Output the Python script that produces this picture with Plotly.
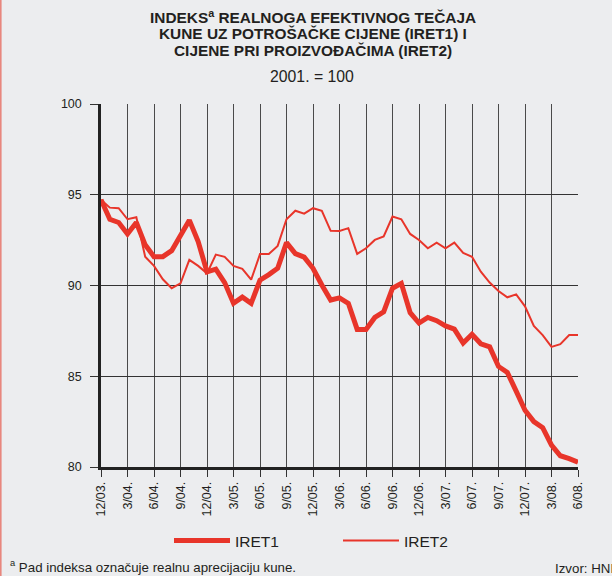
import plotly.graph_objects as go

months = list(range(55))
tick_idx = list(range(0, 55, 3))
tick_labels = ["12/03.", "3/04.", "6/04.", "9/04.", "12/04.", "3/05.", "6/05.", "9/05.",
               "12/05.", "3/06.", "6/06.", "9/06.", "12/06.", "3/07.", "6/07.", "9/07.",
               "12/07.", "3/08.", "6/08."]

iret1 = [94.72, 93.65, 93.47, 92.84, 93.47, 92.24, 91.59, 91.59, 91.92, 92.79,
         93.6, 92.42, 90.75, 90.9, 90.16, 89.02, 89.36, 89.02, 90.3, 90.6,
         90.95, 92.36, 91.76, 91.56, 90.95, 90.03, 89.2, 89.32, 89.02, 87.58,
         87.58, 88.24, 88.55, 89.85, 90.12, 88.5, 87.93, 88.24, 88.06, 87.77,
         87.6, 86.83, 87.31, 86.79, 86.62, 85.54, 85.21, 84.18, 83.13, 82.5,
         82.17, 81.2, 80.62, 80.46, 80.26]

iret2 = [94.72, 94.29, 94.26, 93.65, 93.76, 91.59, 91.08, 90.34, 89.85, 90.12,
         91.41, 91.08, 90.67, 91.7, 91.58, 91.08, 90.92, 90.32, 91.73, 91.73,
         92.18, 93.65, 94.12, 93.96, 94.26, 94.11, 93.01, 93.0, 93.16, 91.74,
         92.05, 92.51, 92.7, 93.8, 93.65, 92.84, 92.51, 92.05, 92.36, 92.05,
         92.36, 91.8, 91.58, 90.76, 90.16, 89.7, 89.35, 89.51, 88.85, 87.77,
         87.27, 86.62, 86.77, 87.27, 87.27]

y_ticks = [80, 85, 90, 95, 100]

RED = "#E8352A"
BG = "#ECEDEF"
TXT = "#231F20"
FONT = "Liberation Sans, Arial, sans-serif"

W, H = 612, 576
L, R, T, B = 101, 34, 104, 109
PW = W - L - R
PH = H - T - B


def px(x):
    return (x - L) / PW


def py(y):
    return (H - B - y) / PH


fig = go.Figure()
fig.add_trace(go.Scatter(x=months, y=iret1, mode="lines", name="IRET1",
                         line=dict(color=RED, width=5), legend="legend"))
fig.add_trace(go.Scatter(x=months, y=iret2, mode="lines", name="IRET2",
                         line=dict(color=RED, width=2), legend="legend2"))

title_lines = ["INDEKS<sup>a</sup> REALNOGA EFEKTIVNOG TEČAJA",
               "KUNE UZ POTROŠAČKE CIJENE (IRET1) I",
               "CIJENE PRI PROIZVOĐAČIMA (IRET2)"]
annotations = []
for k, t in enumerate(title_lines):
    annotations.append(dict(text="<b>" + t + "</b>", x=px(313), y=py(17 + 16.5 * k),
                            xref="paper", yref="paper", showarrow=False,
                            xanchor="center", yanchor="middle",
                            font=dict(family=FONT, size=15.4, color=TXT)))
annotations.append(dict(text="2001. = 100", x=px(312), y=py(76), xref="paper", yref="paper",
                        showarrow=False, xanchor="center", yanchor="middle",
                        font=dict(family=FONT, size=15.8, color=TXT)))
annotations.append(dict(text="<sup>a</sup> Pad indeksa označuje realnu aprecijaciju kune.",
                        x=px(8), y=py(566), xref="paper", yref="paper",
                        showarrow=False, xanchor="left", yanchor="middle",
                        font=dict(family=FONT, size=13.3, color=TXT)))
annotations.append(dict(text="Izvor: HNB", x=px(553), y=py(568), xref="paper", yref="paper",
                        showarrow=False, xanchor="left", yanchor="middle",
                        font=dict(family=FONT, size=13.3, color=TXT)))

shapes = [dict(type="line", xref="paper", yref="paper", x0=px(0.8), x1=px(0.8),
               y0=py(0), y1=py(576), line=dict(color="#E8877E", width=1.6))]

leg_common = dict(orientation="h", xanchor="left", yanchor="middle",
                  xref="paper", yref="paper", bgcolor="rgba(0,0,0,0)",
                  font=dict(family=FONT, size=15.5, color=TXT), itemwidth=56)

fig.update_layout(
    width=W, height=H,
    margin=dict(l=L, r=R, t=T, b=B, pad=0, autoexpand=False),
    paper_bgcolor=BG, plot_bgcolor=BG,
    font=dict(family=FONT, size=12, color=TXT),
    showlegend=True,
    legend=dict(x=px(169), y=py(541), **leg_common),
    legend2=dict(x=px(338), y=py(541), **leg_common),
    annotations=annotations,
    shapes=shapes,
)

fig.update_xaxes(range=[0, 54], tickmode="array", tickvals=tick_idx, ticktext=tick_labels,
                 tickangle=-90, ticks="outside", ticklen=7, tickwidth=1, tickcolor="#333",
                 showgrid=True, gridcolor="#4a4a4a", gridwidth=1.2,
                 showline=True, linecolor="#222", linewidth=2.5, automargin=False,
                 zeroline=False, tickfont=dict(family=FONT, size=12.5, color=TXT))
fig.update_yaxes(range=[80, 100], tickmode="array", tickvals=y_ticks,
                 ticks="outside", ticklen=8, tickwidth=1, tickcolor="#333",
                 showgrid=True, gridcolor="#333", gridwidth=1.2,
                 showline=True, linecolor="#222", linewidth=2.5, automargin=False,
                 ticklabelstandoff=6,
                 zeroline=False, tickfont=dict(family=FONT, size=12.5, color=TXT))

fig.write_html("out.html",
               config={"displayModeBar": False},
               post_script="document.body.style.margin='0';"
                           "document.body.style.background='" + BG + "';")
